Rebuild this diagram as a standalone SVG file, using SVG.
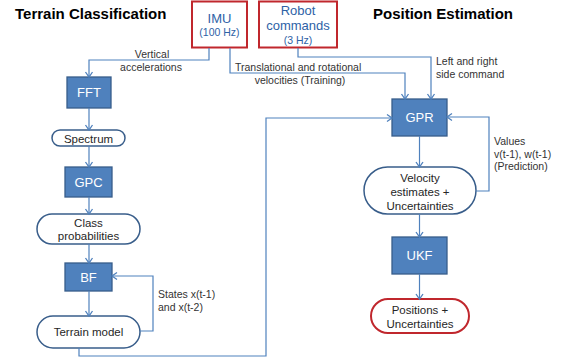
<svg xmlns="http://www.w3.org/2000/svg" width="561" height="360" viewBox="0 0 561 360">
<defs>
<marker id="arr" markerUnits="userSpaceOnUse" markerWidth="10" markerHeight="10" viewBox="0 0 10 10" refX="8" refY="5" orient="auto">
<path d="M3,1.5 L8,5 L3,8.5" fill="none" stroke="#4F81BD" stroke-width="1.3"/>
</marker>
<style>
.t{font-family:"Liberation Sans",Arial,sans-serif;}
.title{font-size:15px;font-weight:bold;fill:#000;}
.box{fill:#4F81BD;stroke:#385D8A;stroke-width:1.3;}
.btxt{font-size:13px;fill:#fff;text-anchor:middle;}
.rnd{fill:#fff;stroke:#385D8A;stroke-width:1.5;}
.rtxt{font-size:11.5px;fill:#262626;text-anchor:middle;}
.src{fill:#fff;stroke:#C0272D;stroke-width:2;}
.stxt{fill:#2E62A6;text-anchor:middle;}
.lbl{font-size:10.5px;fill:#333;}
.c{fill:none;stroke:#4F81BD;stroke-width:1.2;}
</style>
</defs>
<text class="t title" x="15" y="19">Terrain Classification</text>
<text class="t title" x="373" y="19">Position Estimation</text>

<g id="imu">
<rect class="src" x="192" y="1.5" width="55" height="46"/>
<text class="t stxt" x="219.5" y="23" font-size="13">IMU</text>
<text class="t stxt" x="219.5" y="36" font-size="10.5">(100 Hz)</text>
</g>
<g id="robot">
<rect class="src" x="259" y="1.5" width="78" height="46"/>
<text class="t stxt" x="298" y="14.5" font-size="13">Robot</text>
<text class="t stxt" x="298" y="30" font-size="13">commands</text>
<text class="t stxt" x="298" y="44" font-size="10.5">(3 Hz)</text>
</g>
<g id="fft">
<rect class="box" x="67" y="77" width="44" height="31"/>
<text class="t btxt" x="89" y="97">FFT</text>
</g>
<g id="spectrum">
<rect class="rnd" x="52" y="130" width="73" height="16" rx="8"/>
<text class="t rtxt" x="88.5" y="142.5" font-size="12">Spectrum</text>
</g>
<g id="gpc">
<rect class="box" x="65" y="167" width="47" height="30"/>
<text class="t btxt" x="88.5" y="186.5">GPC</text>
</g>
<g id="classprob">
<rect class="rnd" x="37" y="214" width="103" height="30" rx="15"/>
<text class="t rtxt" x="88.5" y="226.5" font-size="11">Class</text>
<text class="t rtxt" x="88.5" y="240" font-size="11">probabilities</text>
</g>
<g id="bf">
<rect class="box" x="65" y="263" width="47" height="28"/>
<text class="t btxt" x="88.5" y="281.5">BF</text>
</g>
<g id="terrain">
<rect class="rnd" x="37" y="316" width="103" height="32" rx="16"/>
<text class="t rtxt" x="88.5" y="336" font-size="12">Terrain model</text>
</g>
<g id="gpr">
<rect class="box" x="392" y="99" width="55" height="37"/>
<text class="t btxt" x="419.5" y="122">GPR</text>
</g>
<g id="velocity">
<rect class="rnd" x="364" y="167" width="112" height="47" rx="23.5"/>
<text class="t rtxt" x="420" y="181.5">Velocity</text>
<text class="t rtxt" x="420" y="195.5">estimates +</text>
<text class="t rtxt" x="420" y="209.5">Uncertainties</text>
</g>
<g id="ukf">
<rect class="box" x="392" y="237" width="55" height="37"/>
<text class="t btxt" x="419.5" y="260">UKF</text>
</g>
<g id="positions">
<rect class="src" x="371" y="299" width="98" height="34" rx="17" stroke-width="1.8"/>
<text class="t rtxt" x="420" y="314">Positions +</text>
<text class="t rtxt" x="420" y="328">Uncertainties</text>
</g>

<g id="connectors">
<path class="c" d="M209,48 V60 H89 V77" marker-end="url(#arr)"/>
<path class="c" d="M230,48 V73 H405 V99" marker-end="url(#arr)"/>
<path class="c" d="M298,48 V57 H431 V99" marker-end="url(#arr)"/>
<path class="c" d="M89,108 V130" marker-end="url(#arr)"/>
<path class="c" d="M89,146 V167" marker-end="url(#arr)"/>
<path class="c" d="M89,197 V214" marker-end="url(#arr)"/>
<path class="c" d="M89,244 V263" marker-end="url(#arr)"/>
<path class="c" d="M89,291 V316" marker-end="url(#arr)"/>
<path class="c" d="M140,331 H153 V276 H112" marker-end="url(#arr)"/>
<path class="c" d="M79,348 V356 H266 V118 H392" marker-end="url(#arr)"/>
<path class="c" d="M419.5,136 V167" marker-end="url(#arr)"/>
<path class="c" d="M476,191 H489 V117 H447" marker-end="url(#arr)"/>
<path class="c" d="M419.5,214 V237" marker-end="url(#arr)"/>
<path class="c" d="M419.5,274 V299" marker-end="url(#arr)"/>
<text class="t lbl" x="152" y="58" text-anchor="middle">Vertical</text>
<text class="t lbl" x="151" y="71" text-anchor="middle">accelerations</text>
<text class="t lbl" x="235" y="71">Translational and rotational</text>
<text class="t lbl" x="300" y="84" text-anchor="middle">velocities (Training)</text>
<text class="t lbl" x="436" y="65">Left and right</text>
<text class="t lbl" x="436" y="78">side command</text>
<text class="t lbl" x="158" y="298">States x(t-1)</text>
<text class="t lbl" x="158" y="311">and x(t-2)</text>
<text class="t lbl" x="494" y="145">Values</text>
<text class="t lbl" x="494" y="158">v(t-1), w(t-1)</text>
<text class="t lbl" x="494" y="170">(Prediction)</text>
</g>
</svg>
